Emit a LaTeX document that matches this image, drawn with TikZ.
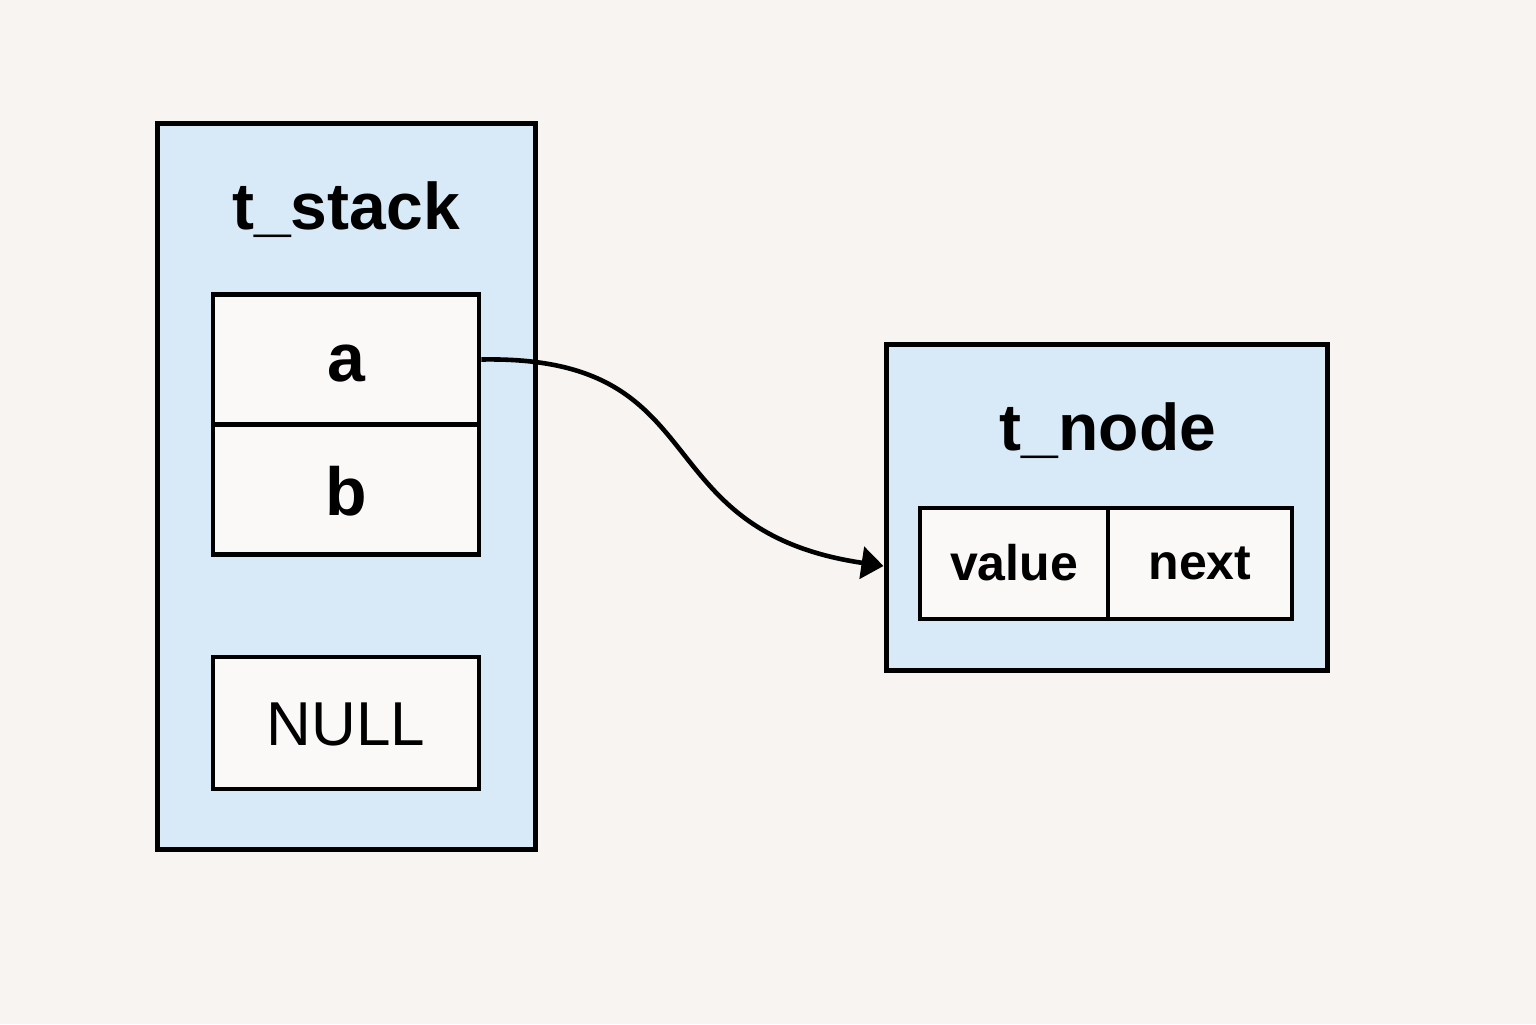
\documentclass[tikz,border=0pt]{standalone}
\usepackage{fontspec}
\setmainfont{Liberation Sans}
\usetikzlibrary{arrows.meta}
\definecolor{bgc}{HTML}{F7F4F1}
\definecolor{panel}{HTML}{D8EAF7}
\definecolor{cellc}{HTML}{FAF9F7}
\tikzset{
  panelbox/.style={draw=black, line width=2.5pt, fill=panel, inner sep=0pt},
  cellbox/.style={draw=black, line width=2.3pt, fill=cellc, inner sep=0pt},
  title/.style={font=\bfseries\fontsize{33}{36}\selectfont},
  big/.style={font=\bfseries\fontsize{34}{38}\selectfont},
  mid/.style={font=\bfseries\fontsize{25}{28}\selectfont},
  nulltxt/.style={font=\fontsize{31}{34}\selectfont},
  link/.style={line width=2.3pt, -{Triangle[length=11pt,width=16pt]}}
}
\begin{document}
\begin{tikzpicture}[x=0.5pt,y=-0.5pt]
\useasboundingbox[fill=bgc] (0,0) rectangle (1536,1024);
% t_stack
\node[panelbox, minimum width=189pt, minimum height=363pt] (stack) at (346,486) {};
\node[title] (stitle) at (346,210) {t\_stack};
\node[cellbox, minimum width=133pt, minimum height=65pt] (a) at (346,359.5) {};
\node[cellbox, minimum width=133pt, minimum height=65pt] (b) at (346,489.5) {};
\node[big] (la) at (346,364) {a};
\node[big] (lb) at (346,491) {b};
\node[cellbox, minimum width=133pt, minimum height=66pt] (null) at (346,723) {};
\node[nulltxt] (lnull) at (346,724) {NULL};
% t_node
\node[panelbox, minimum width=220.5pt, minimum height=163pt] (tnode) at (1106.5,507) {};
\node[title] (ntitle) at (1108,431) {t\_node};
\node[cellbox, minimum width=94pt, minimum height=55.5pt] (value) at (1014,563.5) {};
\node[cellbox, minimum width=92pt, minimum height=55.5pt] (next) at (1200,563.5) {};
\node[mid] (lvalue) at (1014,563) {value};
\node[mid] (lnext) at (1200,563) {next};
% pointer
\coordinate (s) at (a.east);
\coordinate (e) at (tnode.west |- 0,566);
\draw[link] (s) .. controls (720,355) and (640,530) .. (e);
\end{tikzpicture}
\end{document}
